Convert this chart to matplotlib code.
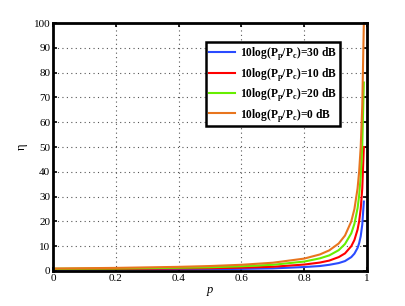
import numpy as np
import matplotlib
matplotlib.use('Agg')
import matplotlib.pyplot as plt

plt.rcParams['font.family'] = 'Liberation Serif'
plt.rcParams['mathtext.fontset'] = 'custom'
plt.rcParams['mathtext.rm'] = 'Liberation Serif:bold'

# values
p = [0, 0.2, 0.4, 0.5, 0.6, 0.7, 0.8, 0.85, 0.88, 0.91, 0.93, 0.95, 0.96, 0.97, 0.975, 0.98, 0.985, 0.99]
eta_0 = [1, 1.25, 1.67, 2, 2.5, 3.33, 5, 6.67, 8.33, 11.1, 14.3, 20, 25, 33.3, 40, 50, 66.7, 100]
eta_20 = [0.9, 1.0, 1.3, 1.5, 1.9, 2.5, 3.8, 5.1, 6.3, 8.4, 10.9, 15.2, 19, 25.3, 30.4, 38, 50.7, 76]
eta_10 = [0.8, 0.85, 1.0, 1.1, 1.35, 1.7, 2.6, 3.4, 4.2, 5.6, 7.1, 10, 12.5, 16.7, 20, 25, 33.3, 50]
eta_30 = [0.6, 0.65, 0.7, 0.75, 0.85, 1.05, 1.6, 2.0, 2.5, 3.2, 4.0, 5.6, 7, 9.3, 11.2, 14, 18.7, 28]

labels = [r'10log(P$_\mathregular{p}$/P$_\mathregular{c}$)=30 dB',
          r'10log(P$_\mathregular{p}$/P$_\mathregular{c}$)=10 dB',
          r'10log(P$_\mathregular{p}$/P$_\mathregular{c}$)=20 dB',
          r'10log(P$_\mathregular{p}$/P$_\mathregular{c}$)=0 dB']
colors = ['#2a4bff', '#ff0000', '#66ee00', '#e8751e']

fig = plt.figure(figsize=(4.06, 3.06), dpi=100)
ax = fig.add_axes([0.1305, 0.1144, 0.7734, 0.8104])

for y, c, lab in zip([eta_30, eta_10, eta_20, eta_0], colors, labels):
    ax.plot(p, y, color=c, linewidth=1.5, label=lab)

ax.set_xlim(0, 1)
ax.set_ylim(0, 100)
ax.set_xticks(np.arange(0, 1.01, 0.2))
ax.set_xticklabels(['0', '0.2', '0.4', '0.6', '0.8', '1'])
ax.set_yticks(np.arange(0, 101, 10))
ax.grid(True, color='#555555', linestyle=(0, (1, 3)), linewidth=0.8)
ax.tick_params(direction='in', labelsize=8, top=True, right=True, length=3, width=1.2, pad=2)
for s in ax.spines.values():
    s.set_linewidth(2)

ax.set_xlabel('p', fontstyle='italic', fontsize=9, labelpad=1)
ax.set_ylabel('η', fontsize=9, labelpad=4)

leg = ax.legend(loc='upper right', bbox_to_anchor=(0.914, 0.922), borderaxespad=0,
                prop={'weight': 'bold', 'size': 8.3}, fancybox=False, framealpha=1,
                edgecolor='black', handlelength=2.2, handletextpad=0.5,
                borderpad=0.25, labelspacing=0.3)
leg.get_frame().set_linewidth(1.8)

fig.savefig('out.png', dpi=100)
